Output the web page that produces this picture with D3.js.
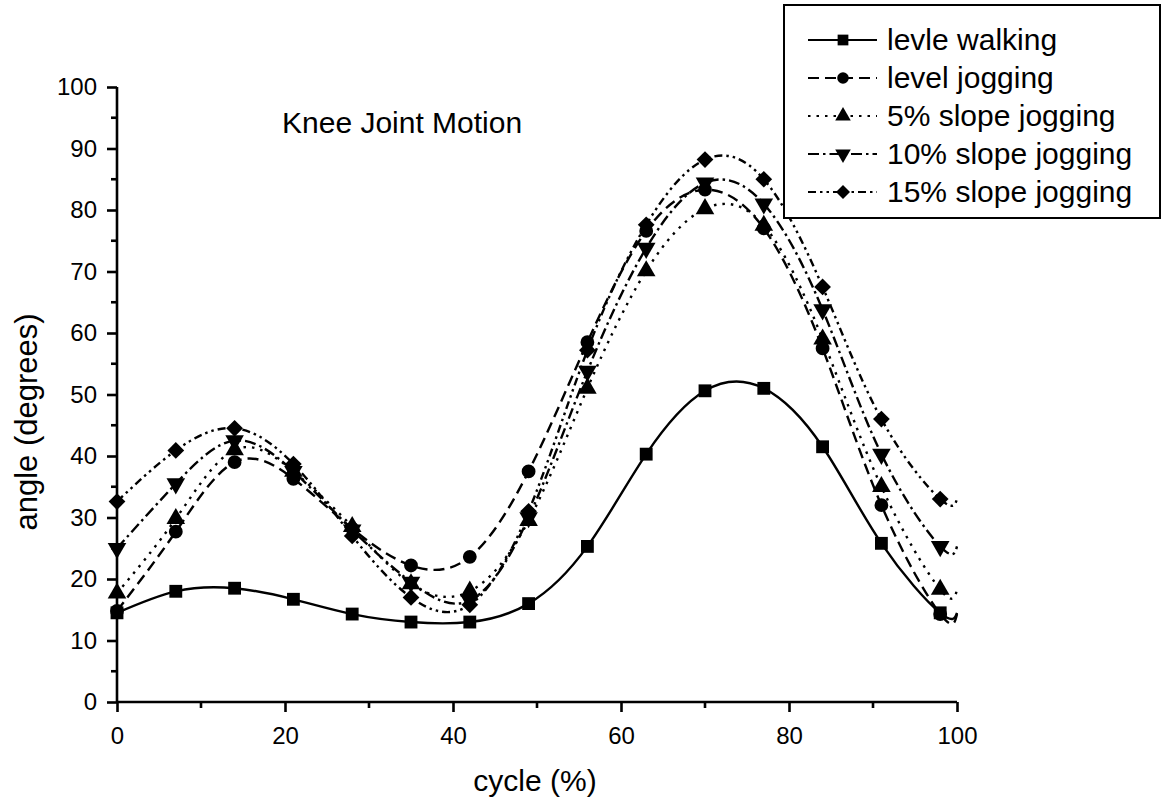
<!DOCTYPE html>
<html><head><meta charset="utf-8">
<script src="https://cdn.jsdelivr.net/npm/d3@7"></script>
<style>body{margin:0;background:#fff}svg{display:block}text{font-family:"Liberation Sans",Arial,sans-serif;fill:#000}</style>
</head><body>
<svg id="c" width="1167" height="806"></svg>
<script>
const cycle = [0, 7, 14, 21, 28, 35, 42, 49, 56, 63, 70, 77, 84, 91, 98];
const levleWalking = [14.5, 18, 18.5, 16.7, 14.3, 13, 13, 16, 25.3, 40.3, 50.6, 51, 41.5, 25.8, 14.5];
const levelJogging = [14.8, 27.7, 39, 36.3, 28.2, 22.2, 23.6, 37.5, 58.5, 76.6, 83.3, 77, 57.5, 32, 14.3];
const slope5 = [17.7, 29.8, 41, 37.5, 28.5, 19.2, 18, 29.5, 51, 70.1, 80.2, 77.5, 59, 35, 18.3];
const slope10 = [25, 35.5, 42.5, 37.5, 28, 19.5, 16.5, 30, 53.8, 73.8, 84.4, 81, 63.8, 40.3, 25.3];
const slope15 = [32.6, 40.9, 44.5, 38.7, 27, 17, 15.8, 31, 57.2, 77.6, 88.2, 85, 67.5, 46, 33];
const seriesNames = ["levle walking", "level jogging", "5% slope jogging", "10% slope jogging", "15% slope jogging"];
const seriesValues = [levleWalking, levelJogging, slope5, slope10, slope15];
const xTicks = [0, 20, 40, 60, 80, 100];
const yTicks = [0, 10, 20, 30, 40, 50, 60, 70, 80, 90, 100];

const dashes = [null, "11,6", "2.5,6", "11,4,2.5,4", "8,4,2.5,4,2.5,4"];
const symbols = ["square", "circle", "triangle", "invTriangle", "diamond"];

const svg = d3.select("#c");
const x = d3.scaleLinear().domain([0, 100]).range([117, 957]);
const y = d3.scaleLinear().domain([0, 100]).range([702, 87]);

function symPath(s, scale) {
  if (s === "square") return d3.symbol(d3.symbolSquare, 165 * scale)();
  if (s === "circle") return d3.symbol(d3.symbolCircle, 150 * scale)();
  if (s === "triangle" || s === "invTriangle") return d3.symbol(d3.symbolTriangle, 150 * scale)();
  return d3.symbol(d3.symbolSquare, 140 * scale)();
}
function symRot(s) {
  if (s === "invTriangle") return " rotate(180)";
  if (s === "diamond") return " rotate(45)";
  return "";
}

// axes
const xAxis = d3.axisBottom(x).tickValues(xTicks).tickSize(10).tickPadding(15).tickFormat(d3.format("d"));
const yAxis = d3.axisLeft(y).tickValues(yTicks).tickSize(10).tickPadding(10).tickFormat(d3.format("d"));
const gx = svg.append("g").attr("transform", "translate(0,702)").call(xAxis);
const gy = svg.append("g").attr("transform", "translate(117,0)").call(yAxis);
const xMinor = d3.range(10, 100, 20);
const yMinor = d3.range(5, 100, 10);
gx.selectAll(".minor").data(xMinor).enter().append("line").attr("class", "minor")
  .attr("x1", d => x(d)).attr("x2", d => x(d)).attr("y1", 0).attr("y2", 6);
gy.selectAll(".minor").data(yMinor).enter().append("line").attr("class", "minor")
  .attr("y1", d => y(d)).attr("y2", d => y(d)).attr("x1", 0).attr("x2", -6);
[gx, gy].forEach(g => {
  g.attr("font-size", null).attr("font-family", null);
  g.select(".domain").attr("stroke", "#000").attr("stroke-width", 2.6);
  g.selectAll("line").attr("stroke", "#000").attr("stroke-width", 2.6);
  g.selectAll("text").style("font-size", "24px");
});
gx.select(".domain").attr("d", `M${x(0)},0H${x(100)}`);
gy.select(".domain").attr("d", `M0,${y(0)}V${y(100)}`);

// axis titles
svg.append("text").attr("x", 535).attr("y", 791).attr("text-anchor", "middle")
  .style("font-size", "30px").text("cycle (%)");
svg.append("text").attr("transform", `translate(37,422) rotate(-90)`).attr("text-anchor", "middle")
  .style("font-size", "31px").text("angle (degrees)");

// title
svg.append("text").attr("x", 282).attr("y", 133).style("font-size", "30px").text("Knee Joint Motion");

// lines
const line = d3.line().x(d => x(d[0])).y(d => y(d[1])).curve(d3.curveNatural);
seriesValues.forEach((vals, i) => {
  const pts = cycle.map((c, j) => [c, vals[j]]);
  const ext = pts.concat([[100, vals[vals.length - 1]]]);
  svg.append("path").attr("d", line(ext)).attr("fill", "none").attr("stroke", "#000")
    .attr("stroke-width", 2.4).attr("stroke-dasharray", dashes[i]);
});
// markers
seriesValues.forEach((vals, i) => {
  svg.append("g").selectAll("path").data(cycle.map((c, j) => [c, vals[j]])).enter().append("path")
    .attr("d", symPath(symbols[i], 1))
    .attr("transform", d => `translate(${x(d[0])},${y(d[1])})` + symRot(symbols[i]))
    .attr("fill", "#000");
});

// legend
const lg = svg.append("g");
lg.append("rect").attr("x", 784).attr("y", 5).attr("width", 376).attr("height", 213)
  .attr("fill", "#fff").attr("stroke", "#000").attr("stroke-width", 2);
seriesNames.forEach((name, i) => {
  const base = 50 + i * 38;
  const cy = base - 10;
  lg.append("line").attr("x1", 808).attr("x2", 877).attr("y1", cy).attr("y2", cy)
    .attr("stroke", "#000").attr("stroke-width", 2.2).attr("stroke-dasharray", dashes[i]);
  lg.append("path").attr("d", symPath(symbols[i], 0.7))
    .attr("transform", `translate(843,${cy})` + symRot(symbols[i]))
    .attr("fill", "#000");
  lg.append("text").attr("x", 887).attr("y", base).style("font-size", "30px").text(name);
});
</script>
</body></html>
